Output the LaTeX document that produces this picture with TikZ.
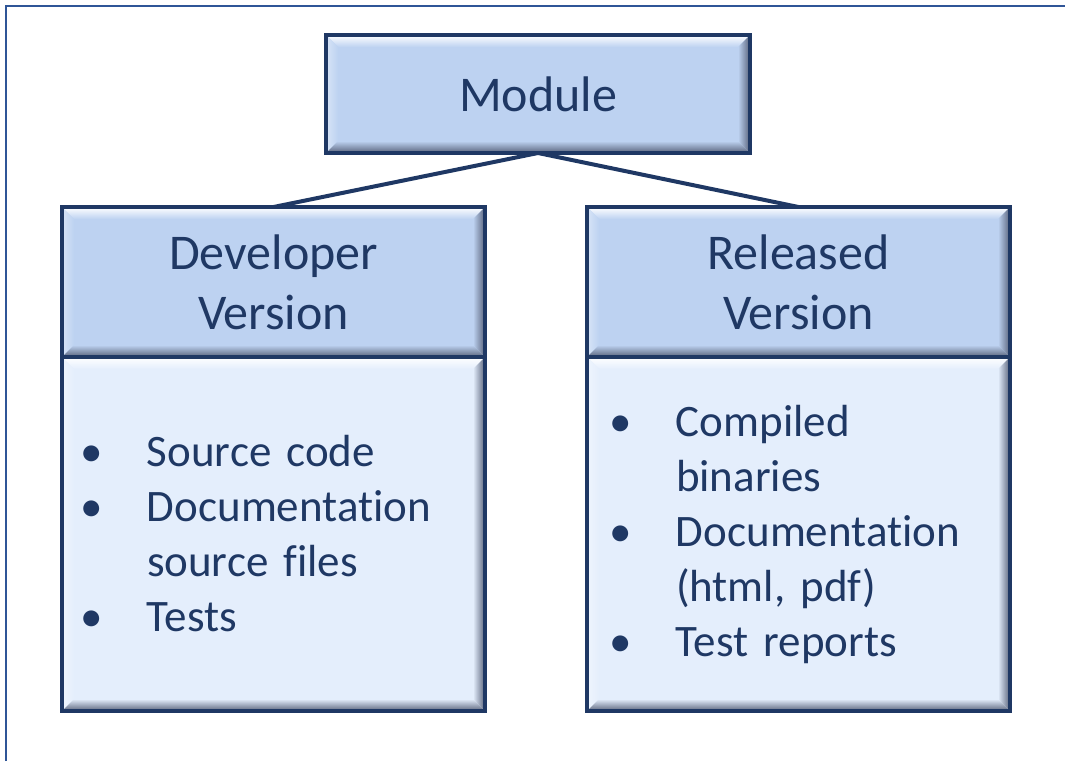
\documentclass[tikz,border=0pt]{standalone}
\usepackage{fontspec}
\setmainfont{Carlito}[Ligatures=NoCommon]
\usetikzlibrary{positioning}

\definecolor{navy}{HTML}{1F3864}
\definecolor{frameblue}{HTML}{2F5597}
\definecolor{headfill}{HTML}{BDD2F1}
\definecolor{bodyfill}{HTML}{E4EEFC}
\definecolor{bevdark}{HTML}{58627A}

% bevelled edge on a named box: [depth]{node}{face colour}
\newcommand{\bevel}[3][12pt]{%
\path (#2.north west) coordinate (tl) (#2.north east) coordinate (tr)
      (#2.south east) coordinate (br) (#2.south west) coordinate (bl);
\shade[top color=white, bottom color=#3] (tl) -- (tr) -- ([shift={(-#1,-#1)}]tr) -- ([shift={(#1,-#1)}]tl) -- cycle;
\shade[left color=#3!60!white, right color=#3] (tl) -- ([shift={(#1,-#1)}]tl) -- ([shift={(#1,#1)}]bl) -- (bl) -- cycle;
\shade[left color=#3, right color=bevdark] (tr) -- (br) -- ([shift={(-#1,#1)}]br) -- ([shift={(-#1,-#1)}]tr) -- cycle;
\shade[top color=#3, bottom color=bevdark] (bl) -- ([shift={(#1,#1)}]bl) -- ([shift={(-#1,#1)}]br) -- (br) -- cycle;
\draw[navy, line width=4pt] (tl) rectangle (br);
}
\newcommand{\itm}[1]{\makebox[67pt][l]{\textbullet}#1}
\newcommand{\cnt}[1]{\hspace*{67pt}#1}

\begin{document}
\begin{tikzpicture}[x=1pt, y=-1pt,
  box/.style={rectangle, draw=navy, line width=4pt, inner sep=0pt, outer sep=0pt,
    text=navy, minimum width=423pt},
  headbox/.style={box, fill=headfill, minimum height=150pt, align=center,
    font=\fontsize{50}{60}\selectfont},
  bodybox/.style={box, fill=bodyfill, minimum height=354pt, align=left,
    text width=#1, font=\fontsize{45}{55}\selectfont},
  link/.style={draw=navy, line width=4pt}]

\useasboundingbox (0,0) rectangle (1065,761);

% FRAME
\draw[frameblue, line width=2.5pt] (6,761) -- (6,6) -- (1065,6);

% MODULE
\node[headbox, minimum height=118pt, minimum width=424pt] (module) at (538,94) {Module};

% DEVELOPER
\node[headbox] (devhead) at (273.5,282) {Developer\\Version};
\node[bodybox=387pt, inner xsep=18pt, below=0pt of devhead] (devbody) {%
\itm{Source code}\\
\itm{Documentation}\\
\cnt{source files}\\
\itm{Tests}};

% RELEASED
\node[headbox] (relhead) at (798.5,282) {Released\\Version};
\node[bodybox=379pt, inner xsep=22pt, below=0pt of relhead] (relbody) {%
\itm{Compiled}\\
\cnt{binaries}\\
\itm{Documentation}\\
\cnt{(html, pdf)}\\
\itm{Test reports}};

% BEVELS
\bevel{module}{headfill}
\bevel{devhead}{headfill}
\bevel{relhead}{headfill}
\bevel{devbody}{bodyfill}
\bevel{relbody}{bodyfill}

% LINKS
\draw[link] (module.south) -- (devhead.north);
\draw[link] (module.south) -- (relhead.north);

\end{tikzpicture}
\end{document}
